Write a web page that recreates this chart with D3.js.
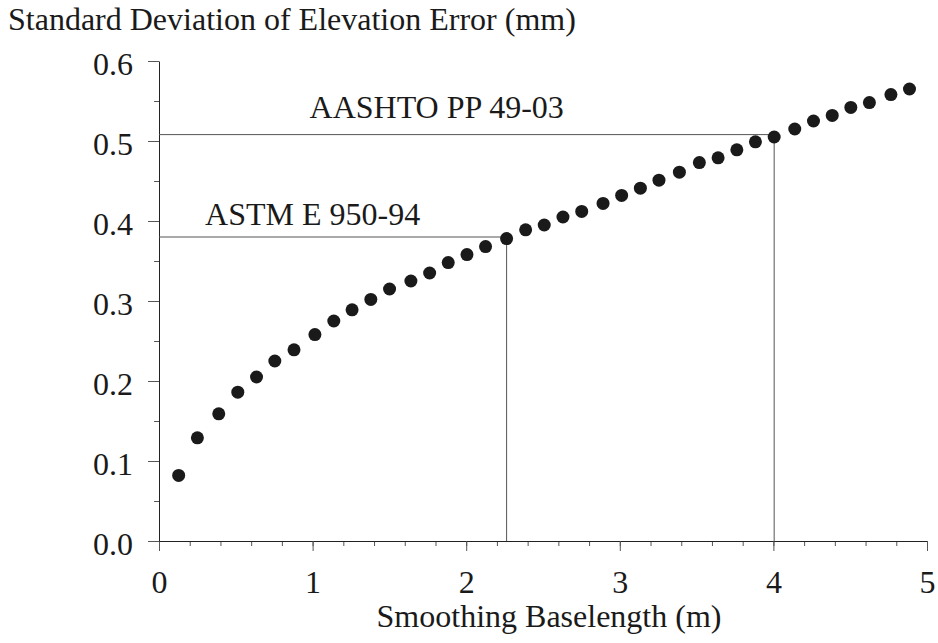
<!DOCTYPE html>
<html>
<head>
<meta charset="utf-8">
<script src="https://cdn.jsdelivr.net/npm/d3@7"></script>
</head>
<body style="margin:0">
<script>
// Smoothing baselength (m) and std dev of elevation error (mm)
var baselength = [0.128, 0.250, 0.389, 0.513, 0.635, 0.754, 0.879, 1.015,
  1.138, 1.257, 1.379, 1.501, 1.640, 1.762, 1.883, 2.005, 2.126,
  2.263, 2.387, 2.508, 2.630, 2.752, 2.891, 3.012, 3.134, 3.255,
  3.388, 3.518, 3.640, 3.762, 3.883, 4.005, 4.139, 4.261, 4.383, 4.504, 4.625, 4.765, 4.886];
var stdev = [0.082, 0.129, 0.159, 0.186, 0.205, 0.225, 0.239, 0.258,
  0.275, 0.289, 0.302, 0.315, 0.325, 0.335, 0.348, 0.358, 0.368,
  0.378, 0.389, 0.395, 0.405, 0.412, 0.422, 0.432, 0.441, 0.451,
  0.461, 0.473, 0.479, 0.489, 0.499, 0.505, 0.515, 0.525, 0.532, 0.542, 0.548, 0.558, 0.565];

// reference specs: baselength and the matching std dev
var specs = [
  { name: 'ASTM E 950-94', x: 2.263, y: 0.380, lx: 0.3, ly: 0.395 },
  { name: 'AASHTO PP 49-03', x: 4.005, y: 0.508, lx: 0.98, ly: 0.529 }
];

var xTicks = [0, 1, 2, 3, 4, 5];
var yTicks = [0, 0.1, 0.2, 0.3, 0.4, 0.5, 0.6];

var width = 938, height = 643;
var margin = { left: 159, right: 11, top: 61, bottom: 102 };

var svg = d3.select('body').append('svg')
  .attr('width', width)
  .attr('height', height)
  .style('background', '#fff');

var x = d3.scaleLinear().domain([0, 5]).range([margin.left, width - margin.right]);
var y = d3.scaleLinear().domain([0, 0.6]).range([height - margin.bottom, margin.top]);

function label(sel) {
  sel.attr('font-family', 'Liberation Serif')
    .style('font-family', "'Liberation Serif'")
    .style('font-size', '32px')
    .attr('fill', '#1a1a1a');
}

// minor ticks
svg.append('g')
  .attr('transform', 'translate(0,' + y(0) + ')')
  .call(d3.axisBottom(x).tickValues(d3.range(0, 5.01, 0.2)).tickSize(5).tickFormat(''))
  .call(function(g) { g.select('.domain').remove(); })
  .selectAll('line').attr('stroke', '#555');

svg.append('g')
  .attr('transform', 'translate(' + x(0) + ',0)')
  .call(d3.axisLeft(y).tickValues(d3.range(0, 0.601, 0.05)).tickSize(5).tickFormat(''))
  .call(function(g) { g.select('.domain').remove(); })
  .selectAll('line').attr('stroke', '#555');

// major axes
var xAxis = svg.append('g')
  .attr('transform', 'translate(0,' + y(0) + ')')
  .call(d3.axisBottom(x).tickValues(xTicks).tickSize(10).tickPadding(19).tickSizeOuter(0)
    .tickFormat(d3.format('d')));

var yAxis = svg.append('g')
  .attr('transform', 'translate(' + x(0) + ',0)')
  .call(d3.axisLeft(y).tickValues(yTicks).tickSize(11).tickPadding(15).tickSizeOuter(0)
    .tickFormat(d3.format('.1f')));

[xAxis, yAxis].forEach(function(g) {
  g.attr('font-family', 'Liberation Serif');
  g.select('.domain').attr('stroke', '#222');
  g.selectAll('.tick line').attr('stroke', '#555');
  g.selectAll('text').call(label);
});
yAxis.selectAll('text').attr('dy', '0.42em');
// extend the x axis line to the 0.0 tick
xAxis.select('.domain').attr('d', 'M' + (x(0) - 11) + ',0.5H' + x(5));

// reference lines
specs.forEach(function(s) {
  svg.append('line')
    .attr('x1', x(0)).attr('x2', x(s.x))
    .attr('y1', y(s.y)).attr('y2', y(s.y))
    .attr('stroke', '#555').attr('stroke-width', 1);
  svg.append('line')
    .attr('x1', x(s.x)).attr('x2', x(s.x))
    .attr('y1', y(s.y)).attr('y2', y(0))
    .attr('stroke', '#555').attr('stroke-width', 1);
  svg.append('text')
    .attr('x', x(s.lx)).attr('y', y(s.ly))
    .call(label)
    .text(s.name);
});

// points
svg.append('g').selectAll('circle')
  .data(baselength)
  .enter().append('circle')
  .attr('cx', function(d) { return x(d); })
  .attr('cy', function(d, i) { return y(stdev[i]); })
  .attr('r', 6.5)
  .attr('fill', '#1a1a1a');

// titles
svg.append('text')
  .attr('x', 8).attr('y', 30)
  .call(label)
  .text('Standard Deviation of Elevation Error (mm)');

svg.append('text')
  .attr('x', (x(0) + x(5)) / 2 + 6).attr('y', 627)
  .attr('text-anchor', 'middle')
  .call(label)
  .text('Smoothing Baselength (m)');
</script>
</body>
</html>
